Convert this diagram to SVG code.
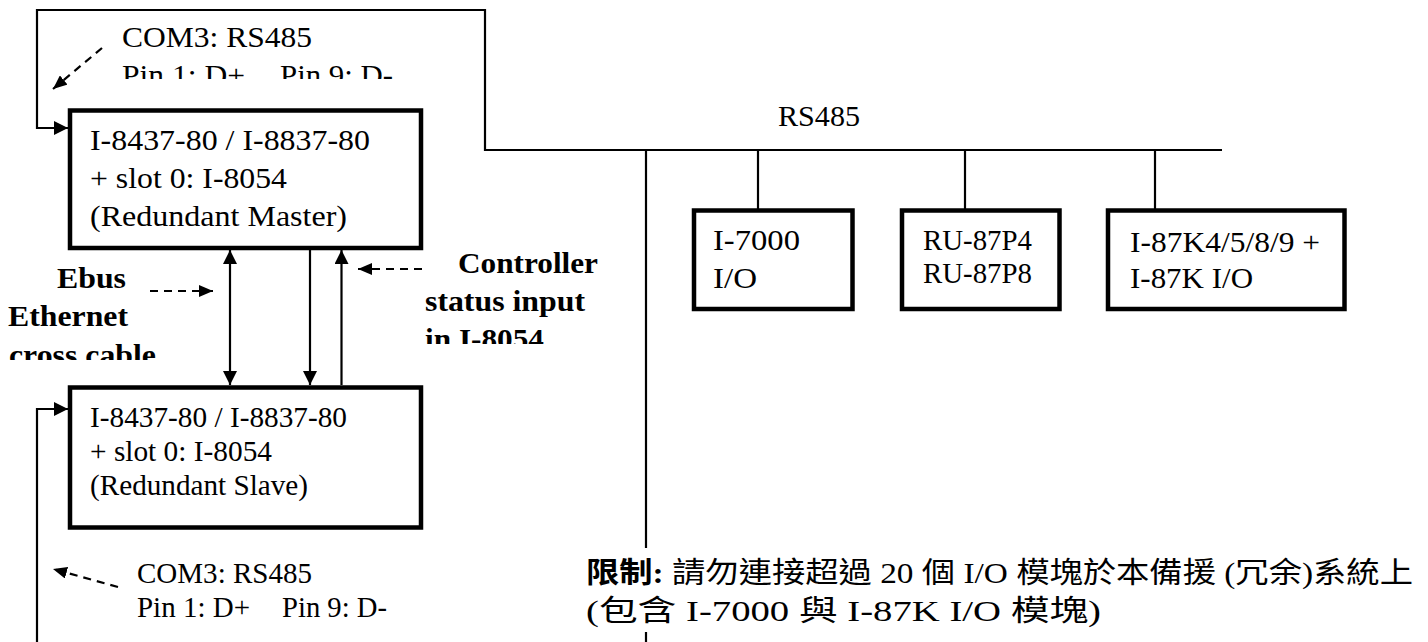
<svg xmlns="http://www.w3.org/2000/svg" width="1428" height="642" viewBox="0 0 1428 642">
<style>
.t{font-family:"Liberation Serif","Times New Roman",serif;font-size:30px;fill:#000}
.b{font-family:"Liberation Serif","Times New Roman",serif;font-size:30px;font-weight:bold;fill:#000}
.c{font-family:"Liberation Serif","Noto Sans CJK TC",serif;font-size:29px;fill:#000}
.box{fill:#fff;stroke:#000;stroke-width:4.5}
.ln{fill:none;stroke:#000;stroke-width:2.2}
.dash{fill:none;stroke:#000;stroke-width:2.2;stroke-dasharray:8 6}
</style>
<defs>
<marker id="ah" viewBox="0 0 14 14" refX="14" refY="7" markerWidth="14" markerHeight="14" markerUnits="userSpaceOnUse" orient="auto-start-reverse">
<path d="M0,0 L14,7 L0,14 z" fill="#000"/>
</marker>
<marker id="dh" viewBox="0 0 14 12" refX="14" refY="6" markerWidth="14" markerHeight="12" markerUnits="userSpaceOnUse" orient="auto">
<path d="M0,0 L14,6 L0,12 z" fill="#000"/>
</marker>
<clipPath id="clipTop"><rect x="0" y="0" width="500" height="79"/></clipPath>
<clipPath id="clipEth"><rect x="0" y="240" width="200" height="120"/></clipPath>
<clipPath id="clipCtl"><rect x="400" y="240" width="220" height="104"/></clipPath>
</defs>

<g id="connectors">
<path class="ln" d="M1222,150 H485 V10 H37 V128 H68" marker-end="url(#ah)"/>
<path class="ln" d="M37,642 V409 H68" marker-end="url(#ah)"/>
<path class="ln" d="M646,150 V642"/>
<path class="ln" d="M758,150 V210"/>
<path class="ln" d="M965,150 V210"/>
<path class="ln" d="M1155,150 V210"/>
<path class="ln" d="M230,250 V385" marker-start="url(#ah)" marker-end="url(#ah)"/>
<path class="ln" d="M310,250 V385" marker-end="url(#ah)"/>
<path class="ln" d="M341.5,385 V250" marker-end="url(#ah)"/>
<path class="dash" d="M102,48 L53,89" marker-end="url(#dh)"/>
<path class="dash" d="M118,587 L53,569" marker-end="url(#dh)"/>
<path class="dash" d="M150,291 L213,291" marker-end="url(#dh)"/>
<path class="dash" d="M422,269 L358,269" marker-end="url(#dh)"/>
</g>

<g id="master">
<rect class="box" x="70" y="110.5" width="351" height="137.5"/>
<text class="t" x="90" y="150" textLength="280" lengthAdjust="spacingAndGlyphs">I-8437-80 / I-8837-80</text>
<text class="t" x="90" y="188" textLength="197" lengthAdjust="spacingAndGlyphs">+ slot 0: I-8054</text>
<text class="t" x="90" y="226" textLength="257" lengthAdjust="spacingAndGlyphs">(Redundant Master)</text>
</g>

<g id="slave">
<rect class="box" x="70" y="387.5" width="351" height="140"/>
<text class="t" x="90" y="427" textLength="257" lengthAdjust="spacingAndGlyphs">I-8437-80 / I-8837-80</text>
<text class="t" x="90" y="461" textLength="182" lengthAdjust="spacingAndGlyphs">+ slot 0: I-8054</text>
<text class="t" x="90" y="495" textLength="218" lengthAdjust="spacingAndGlyphs">(Redundant Slave)</text>
</g>

<g id="io7000">
<rect class="box" x="694" y="210.5" width="158.5" height="98.5"/>
<text class="t" x="713" y="250" textLength="87" lengthAdjust="spacingAndGlyphs">I-7000</text>
<text class="t" x="713" y="288" textLength="44" lengthAdjust="spacingAndGlyphs">I/O</text>
</g>

<g id="ru87">
<rect class="box" x="902" y="210.5" width="157.5" height="98.5"/>
<text class="t" x="923" y="250" textLength="109" lengthAdjust="spacingAndGlyphs">RU-87P4</text>
<text class="t" x="923" y="283" textLength="109" lengthAdjust="spacingAndGlyphs">RU-87P8</text>
</g>

<g id="i87k">
<rect class="box" x="1108" y="210.5" width="236.5" height="98.5"/>
<text class="t" x="1130" y="252" textLength="190" lengthAdjust="spacingAndGlyphs">I-87K4/5/8/9 +</text>
<text class="t" x="1130" y="288" textLength="123" lengthAdjust="spacingAndGlyphs">I-87K I/O</text>
</g>

<g id="labels">
<text class="t" x="778" y="126" textLength="82" lengthAdjust="spacingAndGlyphs">RS485</text>
<text class="t" x="122" y="47" textLength="190" lengthAdjust="spacingAndGlyphs">COM3: RS485</text>
<g clip-path="url(#clipTop)">
<text class="t" x="122" y="85" textLength="123" lengthAdjust="spacingAndGlyphs">Pin 1: D+</text>
<text class="t" x="280" y="85" textLength="113" lengthAdjust="spacingAndGlyphs">Pin 9: D-</text>
</g>
<text class="t" x="137" y="583" textLength="175" lengthAdjust="spacingAndGlyphs">COM3: RS485</text>
<text class="t" x="137" y="617" textLength="113" lengthAdjust="spacingAndGlyphs">Pin 1: D+</text>
<text class="t" x="282" y="617" textLength="105" lengthAdjust="spacingAndGlyphs">Pin 9: D-</text>
<g clip-path="url(#clipEth)">
<text class="b" x="57" y="288" textLength="69" lengthAdjust="spacingAndGlyphs">Ebus</text>
<text class="b" x="8" y="326" textLength="120" lengthAdjust="spacingAndGlyphs">Ethernet</text>
<text class="b" x="9" y="365" textLength="147" lengthAdjust="spacingAndGlyphs">cross cable</text>
</g>
<g clip-path="url(#clipCtl)">
<text class="b" x="458" y="273" textLength="140" lengthAdjust="spacingAndGlyphs">Controller</text>
<text class="b" x="425" y="311" textLength="160" lengthAdjust="spacingAndGlyphs">status input</text>
<text class="b" x="425" y="349" textLength="119" lengthAdjust="spacingAndGlyphs">in I-8054</text>
</g>
</g>

<g id="note">
<rect x="580" y="548" width="840" height="84" fill="#fff"/>
<text class="c" x="586" y="583" textLength="827" lengthAdjust="spacingAndGlyphs"><tspan font-weight="bold">限制:</tspan> 請勿連接超過 20 個  I/O  模塊於本備援  (冗余)系統上</text>
<text class="c" x="586" y="621" textLength="515" lengthAdjust="spacingAndGlyphs">(包含  I-7000  與  I-87K I/O  模塊)</text>
</g>
</svg>
